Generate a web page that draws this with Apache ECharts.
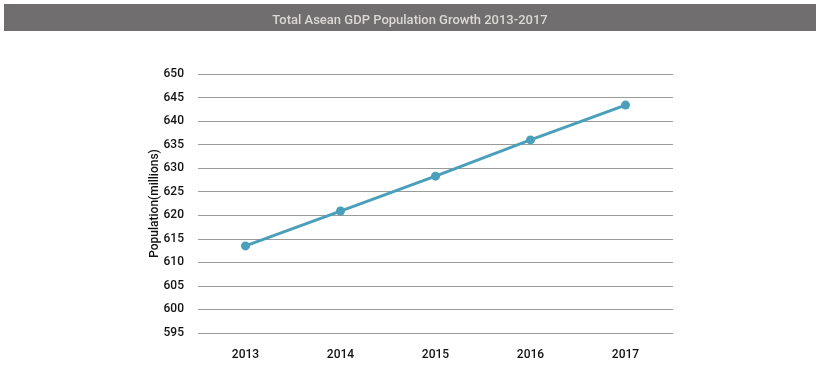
<!DOCTYPE html>
<html>
<head>
<meta charset="utf-8">
<script src="https://cdn.jsdelivr.net/npm/echarts@6/dist/echarts.min.js"></script>
<style>
  html, body { margin: 0; padding: 0; background: #fff; }
  #chart { width: 820px; height: 377px; }
</style>
</head>
<body>
<div id="chart"></div>
<script>
// years and population (millions)
var years = ["2013", "2014", "2015", "2016", "2017"];
var population = [613.5, 620.9, 628.3, 636.0, 643.4];

var chart = echarts.init(document.getElementById("chart"));
var option = {
  backgroundColor: "#fff",
  animation: false,
  graphic: [
    {
      type: "rect",
      left: 4,
      top: 4,
      shape: { width: 812, height: 27 },
      style: { fill: "#706e6e" },
      z: 0
    }
  ],
  title: {
    text: "Total Asean GDP Population Growth 2013-2017",
    left: "center",
    top: 9,
    textStyle: {
      color: "#dcd8d4",
      fontSize: 13,
      fontWeight: 500,
      fontFamily: "Roboto"
    }
  },
  grid: {
    left: 198,
    right: 147,
    top: 74,
    bottom: 44
  },
  xAxis: {
    type: "category",
    data: years,
    boundaryGap: true,
    axisLine: { show: false },
    axisTick: { show: false },
    axisLabel: {
      color: "#111",
      fontSize: 12,
      margin: 16,
      fontWeight: 500,
      fontFamily: "Roboto"
    }
  },
  yAxis: {
    type: "value",
    min: 595,
    max: 650,
    interval: 5,
    name: "Population(millions)",
    nameLocation: "middle",
    nameGap: 37,
    nameMoveOverlap: false,
    nameTextStyle: {
      color: "#111",
      fontSize: 12,
      fontWeight: 500,
      fontFamily: "Roboto"
    },
    axisLine: { show: false },
    axisTick: { show: false },
    axisLabel: {
      color: "#111",
      fontSize: 12,
      margin: 14,
      fontWeight: 500,
      fontFamily: "Roboto"
    },
    splitLine: { lineStyle: { color: "#9a9a9a", width: 1 } }
  },
  series: [
    {
      type: "line",
      data: population,
      symbol: "circle",
      symbolSize: 9,
      lineStyle: { color: "#4a9fbb", width: 3 },
      itemStyle: { color: "#4a9fbb" }
    }
  ]
};
chart.setOption(option);
</script>
</body>
</html>
